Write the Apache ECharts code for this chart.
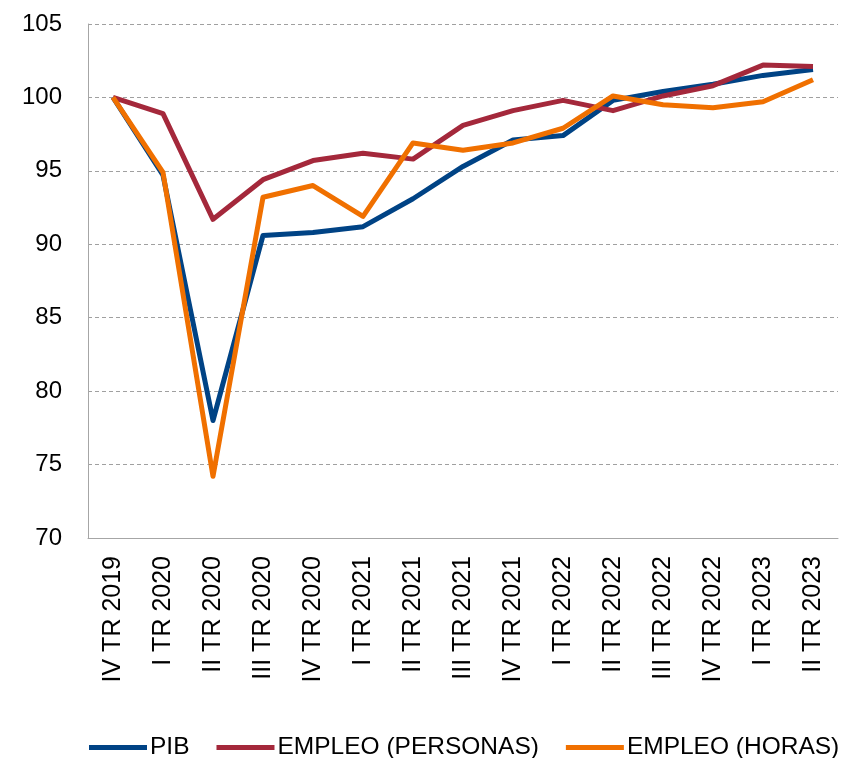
<!DOCTYPE html>
<html>
<head>
<meta charset="utf-8">
<script src="https://cdn.jsdelivr.net/npm/echarts@6/dist/echarts.min.js"></script>
<style>
  html, body { margin: 0; padding: 0; background: #fff; }
  #chart { width: 841px; height: 758px; }
</style>
</head>
<body>
<div id="chart"></div>
<script>
const categories = [
  'IV TR 2019', 'I TR 2020', 'II TR 2020', 'III TR 2020', 'IV TR 2020',
  'I TR 2021', 'II TR 2021', 'III TR 2021', 'IV TR 2021',
  'I TR 2022', 'II TR 2022', 'III TR 2022', 'IV TR 2022',
  'I TR 2023', 'II TR 2023'
]
const pib = [100, 94.7, 78.0, 90.6, 90.8, 91.2, 93.1, 95.3, 97.1, 97.4, 99.8, 100.4, 100.9, 101.5, 101.9]
const empleoPersonas = [100, 98.9, 91.7, 94.4, 95.7, 96.2, 95.8, 98.1, 99.1, 99.8, 99.1, 100.1, 100.8, 102.2, 102.1]
const empleoHoras = [100, 94.9, 74.2, 93.2, 94.0, 91.9, 96.9, 96.4, 96.9, 97.9, 100.1, 99.5, 99.3, 99.7, 101.2]

const font = 'Liberation Sans, Arial, Helvetica, sans-serif'
const chart = echarts.init(document.getElementById('chart'))

const line = (name, data, color) => ({
  name: name,
  type: 'line',
  data: data,
  symbol: 'none',
  color: color,
  lineStyle: { width: 5, color: color, join: 'round' }
})

chart.setOption({
  animation: false,
  textStyle: { fontFamily: font },
  grid: { left: 88, right: 3, top: 24, bottom: 220, containLabel: false },
  legend: {
    left: 89,
    top: 735,
    width: 800,
    padding: 0,
    icon: 'rect',
    itemWidth: 58,
    itemHeight: 5,
    itemGap: 27,
    textStyle: { fontSize: 24.5, color: '#000', fontFamily: font, padding: [0, 0, 0, -2] },
    data: ['PIB', 'EMPLEO (PERSONAS)', 'EMPLEO (HORAS)']
  },
  xAxis: {
    type: 'category',
    data: categories,
    boundaryGap: true,
    axisLine: { lineStyle: { color: '#a6a6a6', width: 1 } },
    axisTick: { inside: true, length: 8, lineStyle: { color: '#a6a6a6' } },
    axisLabel: { rotate: 90, margin: 18, fontSize: 25, color: '#000', interval: 0 },
    splitLine: { show: false }
  },
  yAxis: {
    type: 'value',
    min: 70,
    max: 105,
    interval: 5,
    axisLine: { show: true, lineStyle: { color: '#a6a6a6', width: 1 } },
    axisTick: { show: false },
    axisLabel: { margin: 26, fontSize: 24, color: '#000' },
    splitLine: { lineStyle: { color: '#a0a0a0', type: [4, 3], width: 1 } }
  },
  series: [
    line('PIB', pib, '#004385'),
    line('EMPLEO (PERSONAS)', empleoPersonas, '#a4283b'),
    line('EMPLEO (HORAS)', empleoHoras, '#f07000')
  ]
})
</script>
</body>
</html>
